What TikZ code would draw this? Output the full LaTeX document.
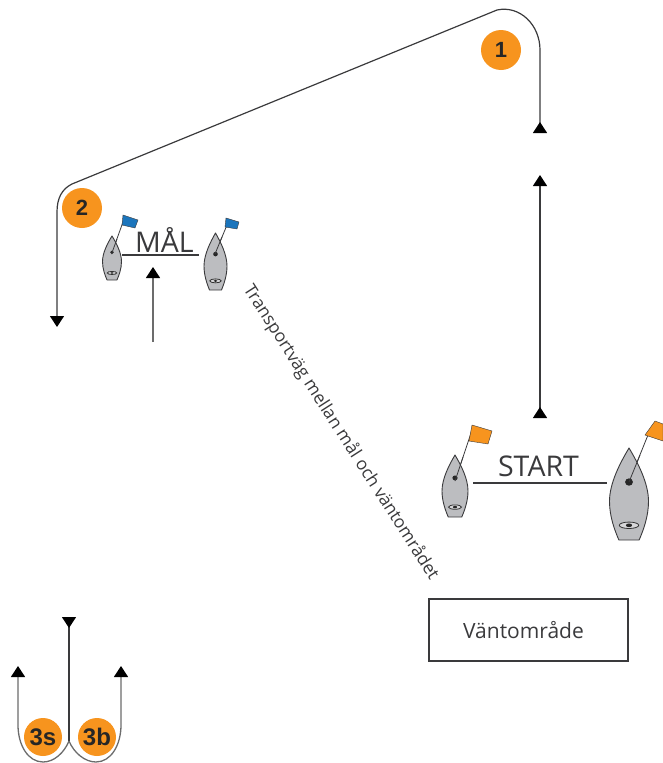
\documentclass[tikz,border=0pt]{standalone}
\usepackage{fontspec}
\setmainfont{Open Sans}
\newfontfamily\badgefont{Liberation Sans}
\usetikzlibrary{arrows.meta}
\definecolor{badge}{HTML}{F7941E}
\definecolor{hull}{HTML}{BCBDC0}
\definecolor{flagblue}{HTML}{1B75BC}
\definecolor{ink}{HTML}{3A3A3C}
\tikzset{
  x=1pt,y=-1pt,
  route/.style={draw=ink,line width=1.2pt},
  thin route/.style={draw=gray!85!black,line width=1.3pt},
  headin/.style={{Triangle[reversed,length=11pt,width=14pt,color=black]}-},
  headout/.style={-{Triangle[length=11pt,width=14pt,color=black]}},
  headboth/.style={{Triangle[reversed,length=11pt,width=14pt,color=black]}-{Triangle[length=11pt,width=14pt,color=black]}},
  badgecirc/.style={circle,fill=badge,minimum size=#1,inner sep=0pt,text=black!85},
  badgebig/.style={font=\badgefont\bfseries\fontsize{24}{24}\selectfont},
  gateline/.style={draw=ink,line width=1.4pt},
  gatelabel/.style={text=ink,inner sep=0pt,font=\fontsize{28.5}{28.5}\selectfont},
  boat/.pic={
    \draw[draw=ink,line width=0.9pt,fill=hull,line join=round]
      (0,0) .. controls (0.45,0.16) and (1,0.38) .. (1,0.58)
      .. controls (1,0.75) and (0.72,0.9) .. (0.52,1)
      -- (-0.52,1)
      .. controls (-0.72,0.9) and (-1,0.75) .. (-1,0.58)
      .. controls (-1,0.38) and (-0.45,0.16) .. (0,0) -- cycle;
    \fill[black!85] (0,0.37) ellipse [x radius=0.2,y radius=0.04];
    \draw[black!80,line width=0.8pt,fill=hull!60] (0,0.84) ellipse [x radius=0.5,y radius=0.035];
    \fill[black!85] (0,0.84) ellipse [x radius=0.16,y radius=0.02];
  },
}
\begin{document}
\begin{tikzpicture}
\useasboundingbox (0,0) rectangle (663,763);
% route coordinates
\coordinate (oneA) at (540,133);
\coordinate (oneB) at (540,50);
\coordinate (oneC) at (497,10);
\coordinate (twoA) at (72,184);
\coordinate (twoB) at (57,212);
\coordinate (twoC) at (57,327);
\coordinate (startTop) at (540,175);
\coordinate (startBot) at (540,418);
\coordinate (finFrom) at (153,342);
\coordinate (finTo) at (153,267);
\coordinate (midTop) at (69,617);
\coordinate (junction) at (69,741);
\coordinate (leftEnd) at (18,666);
\coordinate (rightEnd) at (121,666);
\coordinate (gateAl) at (122,255);
\coordinate (gateAr) at (199,255);
\coordinate (gateBl) at (473,483);
\coordinate (gateBr) at (607,483);

% boats
\draw[ink,line width=0.8pt] (455,481) -- (471,433);
\fill[badge,draw=ink,line width=0.4pt] (472,425) -- (492,431) -- (488,444) -- (469,441) -- cycle;
\draw[ink,line width=0.8pt] (629,482) -- (650,430);
\fill[badge,draw=ink,line width=0.4pt] (655,421) -- (663,424) -- (663,441) -- (645,435) -- cycle;
\draw[ink,line width=0.8pt] (111.5,254) -- (123,222);
\fill[flagblue,draw=ink,line width=0.4pt] (123,215) -- (138,220) -- (135,228) -- (122,225) -- cycle;
\draw[ink,line width=0.8pt] (215,254) -- (227,225);
\fill[flagblue,draw=ink,line width=0.4pt] (226,218) -- (239,222) -- (237,229) -- (225,227) -- cycle;
\pic[xscale=9.5,yscale=44] at (112,236) {boat};
\pic[xscale=11.5,yscale=57] at (215.5,233) {boat};
\pic[xscale=13,yscale=62] at (455,455) {boat};
\pic[xscale=19.5,yscale=92] at (629,448) {boat};
\draw[ink,line width=0.8pt] (455,481) -- (463,457);
\draw[ink,line width=0.8pt] (629,482) -- (640,455);
\draw[ink,line width=0.8pt] (111.5,254) -- (117,239);
\draw[ink,line width=0.8pt] (215,254) -- (222,237);

% routes
\draw[route,headboth] (oneA) -- (oneB) .. controls (540,25) and (520,5) .. (oneC)
  -- (twoA) .. controls (62,189) and (57,198) .. (twoB) -- (twoC);
\draw[route,headboth] (startBot) -- (startTop);
\draw[thin route,headout] (finFrom) -- (finTo);
\draw[route,headin] (midTop) -- (junction);
\draw[thin route,headout] (junction) .. controls (64,753) and (54,762) .. (43,762)
  .. controls (28,762) and (18,745) .. (18,725) -- (leftEnd);
\draw[thin route,headout] (junction) .. controls (74,753) and (85,762) .. (96,762)
  .. controls (111,762) and (121,745) .. (121,725) -- (rightEnd);

% badges
\node[badgecirc=40pt,font=\badgefont\bfseries\fontsize{22}{22}\selectfont] (b1) at (501,50) {1};
\node[badgecirc=40pt,font=\badgefont\bfseries\fontsize{22}{22}\selectfont] (b2) at (82,208) {2};
\node[badgecirc=38pt,badgebig] (b3s) at (43,737) {3s};
\node[badgecirc=38pt,badgebig] (b3b) at (97,737) {3b};

% gates
\draw[gateline] (gateAl) -- (gateAr);
\draw[gateline] (gateBl) -- (gateBr);
\node[gatelabel] (mal) at (164.5,240) {MÅL};
\node[gatelabel] (start) at (538.5,466) {START};

% box and transport label
\node[draw=ink,line width=1.2pt,minimum width=199pt,minimum height=62pt,inner sep=0pt,
      font=\fontsize{21}{21}\selectfont,text=ink] (wait) at (528.5,630) {\hspace{-10pt}Väntområde};
\node[rotate=-57.3,inner sep=0pt,font=\fontsize{17.5}{17.5}\selectfont,text=ink] (transport) at (341,432.5)
  {Transportväg mellan mål och väntområdet};
\end{tikzpicture}
\end{document}
